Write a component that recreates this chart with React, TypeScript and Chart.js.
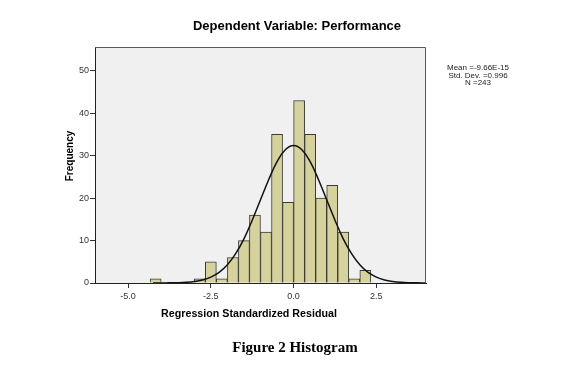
import React, { useEffect, useRef } from "react";
import { Chart, registerables } from "chart.js";

Chart.register(...registerables);

// Histogram bins (bin midpoints, bin width 1/3) and frequencies
const binMids = [-4.167, -2.833, -2.5, -2.167, -1.833, -1.5, -1.167, -0.833, -0.5, -0.167, 0.167, 0.5, 0.833, 1.167, 1.5, 1.833, 2.167];
const binCounts = [1, 1, 5, 1, 6, 10, 16, 12, 35, 19, 43, 35, 20, 23, 12, 1, 3];

// Normal curve
const curveX = [-4.25, -4, -3.75, -3.5, -3.25, -3, -2.75, -2.5, -2.25, -2, -1.75, -1.5, -1.25, -1, -0.75, -0.5, -0.25, 0, 0.25, 0.5, 0.75, 1, 1.25, 1.5, 1.75, 2, 2.25, 2.5, 2.75, 3, 3.25, 3.5, 3.75, 4];
const curveY = [0, 0.01, 0.03, 0.07, 0.16, 0.35, 0.72, 1.4, 2.5, 4.3, 6.9, 10.4, 14.8, 19.6, 24.4, 28.6, 31.4, 32.4, 31.4, 28.6, 24.4, 19.6, 14.8, 10.4, 6.9, 4.3, 2.5, 1.4, 0.72, 0.35, 0.16, 0.07, 0.03, 0.01];

const xTickValues = [-5, -2.5, 0, 2.5];
const yTickValues = [0, 10, 20, 30, 40, 50];
const xRange = [-6, 4];
const yRange = [0, 55.6];

const chartTitle = "Dependent Variable: Performance";
const xTitle = "Regression Standardized Residual";
const yTitle = "Frequency";
const statsLines = ["Mean =-9.66E-15", "Std. Dev. =0.996", "N =243"];
const caption = "Figure 2 Histogram";

const SANS = "Arial, 'Liberation Sans', sans-serif";
const SERIF = "'Times New Roman', 'Liberation Serif', serif";

const decorPlugin = {
  id: "decor",
  beforeDraw(chart: any) {
    const { ctx, chartArea: a } = chart;
    ctx.save();
    ctx.fillStyle = "#ffffff";
    ctx.fillRect(0, 0, chart.width, chart.height);
    ctx.fillStyle = "#f0f0f0";
    ctx.fillRect(a.left, a.top, a.right - a.left, a.bottom - a.top);
    ctx.restore();
  },
  afterDraw(chart: any) {
    const { ctx, chartArea: a } = chart;
    ctx.save();
    // frame top/right
    ctx.strokeStyle = "#5a5a5a";
    ctx.lineWidth = 1;
    ctx.beginPath();
    ctx.moveTo(a.left, a.top + 0.5);
    ctx.lineTo(a.right - 0.5, a.top + 0.5);
    ctx.lineTo(a.right - 0.5, a.bottom);
    ctx.stroke();

    ctx.fillStyle = "#000";
    ctx.textAlign = "center";
    ctx.textBaseline = "middle";
    ctx.font = `bold 13px ${SANS}`;
    ctx.fillText(chartTitle, 297, 26);

    ctx.font = `bold 10.7px ${SANS}`;
    ctx.fillText(xTitle, 249, 314);

    ctx.font = `bold 10px ${SANS}`;
    ctx.save();
    ctx.translate(70, 156);
    ctx.rotate(-Math.PI / 2);
    ctx.fillText(yTitle, 0, 0);
    ctx.restore();

    ctx.fillStyle = "#222";
    ctx.font = `8px ${SANS}`;
    statsLines.forEach((t, i) => ctx.fillText(t, 478, 68 + i * 7.6));

    ctx.fillStyle = "#000";
    ctx.font = `bold 15px ${SERIF}`;
    ctx.fillText(caption, 295, 348);
    ctx.restore();
  },
};

export default function App() {
  const ref = useRef<HTMLCanvasElement | null>(null);

  useEffect(() => {
    if (!ref.current) return;
    const chart = new Chart(ref.current, {
      type: "bar",
      data: {
        datasets: [
          {
            type: "line",
            data: curveX.map((x, i) => ({ x, y: curveY[i] })),
            borderColor: "#111111",
            borderWidth: 1.5,
            pointRadius: 0,
            tension: 0.4,
            fill: false,
            order: 0,
          } as any,
          {
            type: "bar",
            data: binMids.map((x, i) => ({ x, y: binCounts[i] })),
            backgroundColor: "#d6d29c",
            borderColor: "#3a3a3a",
            borderWidth: 1,
            barPercentage: 1,
            categoryPercentage: 1,
            order: 1,
          } as any,
        ],
      },
      options: {
        responsive: false,
        animation: false,
        devicePixelRatio: 1,
        layout: { padding: { left: 75, right: 145, top: 47, bottom: 71 } },
        plugins: {
          legend: { display: false },
          tooltip: { enabled: false },
          title: { display: false },
        },
        scales: {
          x: {
            type: "linear",
            min: xRange[0],
            max: xRange[1],
            offset: false,
            afterFit: (s: any) => {
              s.height = 20;
            },
            afterBuildTicks: (s: any) => {
              s.ticks = xTickValues.map((v) => ({ value: v }));
            },
            grid: {
              offset: false,
              drawOnChartArea: false,
              drawTicks: true,
              tickLength: 5,
              color: "#333",
            },
            border: { color: "#222", width: 1 },
            ticks: {
              padding: 3,
              color: "#333",
              font: { family: SANS, size: 9 },
              maxRotation: 0,
              callback: (v: any) => Number(v).toFixed(1),
            },
          },
          y: {
            min: yRange[0],
            max: yRange[1],
            afterFit: (s: any) => {
              s.width = 20;
            },
            afterBuildTicks: (s: any) => {
              s.ticks = yTickValues.map((v) => ({ value: v }));
            },
            grid: {
              drawOnChartArea: false,
              drawTicks: true,
              tickLength: 5,
              color: "#333",
            },
            border: { color: "#222", width: 1 },
            ticks: {
              padding: 1,
              color: "#333",
              font: { family: SANS, size: 9 },
            },
          },
        },
      } as any,
      plugins: [decorPlugin],
    });
    return () => chart.destroy();
  }, []);

  return (
    <div style={{ position: "fixed", left: 0, top: 0, width: 571, height: 374, background: "#fff" }}>
      <canvas ref={ref} width={571} height={374} style={{ display: "block" }} />
    </div>
  );
}
